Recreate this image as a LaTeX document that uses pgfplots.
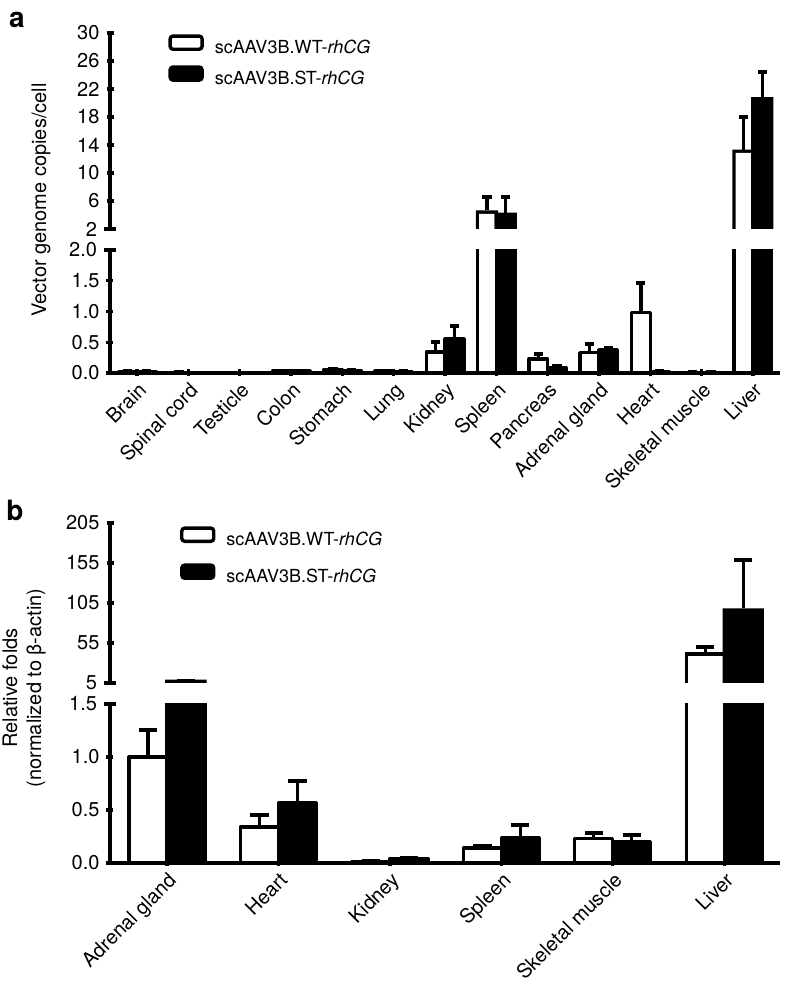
\documentclass[border=0pt]{standalone}
\usepackage{pgfplots}
\usepackage{pgfplotstable}
\pgfplotsset{compat=1.18}
\usepackage{fontspec}
\setmainfont{TeX Gyre Heros}

\pgfplotstableread{
x wt wterr st sterr
0 0.02 0.01 0.02 0.01
1 0.01 0.00 0.00 0.00
2 0.00 0.00 0.00 0.00
3 0.03 0.01 0.03 0.01
4 0.05 0.01 0.04 0.01
5 0.03 0.01 0.02 0.01
6 0.34 0.16 0.55 0.21
7 4.4 2.2 4.1 2.5
8 0.23 0.08 0.08 0.03
9 0.33 0.14 0.38 0.02
10 0.98 0.48 0.02 0.01
11 0.01 0.00 0.01 0.00
12 13.1 4.9 20.6 3.8
}\dataA

\pgfplotstableread{
x wt wterr st sterr
0 1.00 0.25 7.0 0.8
1 0.34 0.11 0.57 0.20
2 0.01 0.005 0.04 0.01
3 0.14 0.02 0.24 0.12
4 0.23 0.05 0.20 0.06
5 41 9 96 63
}\dataB

\pgfplotsset{
  lines/.style={
    axis line style={-, line width=1.7pt},
    every outer x axis line/.append style={-},
    every outer y axis line/.append style={-},
    every inner x axis line/.append style={-},
    every inner y axis line/.append style={-},
  },
  every axis/.append style={
    font=\fontsize{10}{12}\selectfont,
    scale only axis, enlargelimits=false, clip marker paths=true,
    anchor=south west,
    tick style={line width=1.7pt, black},
    tick align=outside, major tick length=3.5pt,
    extra y tick style={tick align=center, major tick length=6pt},
  },
  wtbar/.style={ybar, bar shift=0pt, fill=white, draw=black, line width=1.7pt, line join=round},
  stbar/.style={ybar, bar shift=0pt, fill=black, draw=black, line width=1.7pt, line join=round},
  fillbar/.style={ybar, bar shift=0pt, fill=#1, draw=none},
  errbar/.style={error bars/.cd, y dir=plus, y explicit,
     error bar style={line width=1.7pt, black, solid},
     error mark options={rotate=90, mark size=#1, line width=2pt, black}},
  legstyle/.style={legend style={draw=none, fill=none,
    inner sep=0pt, row sep=#1, nodes={inner sep=0.5pt}, font=\fontsize{9}{10}\selectfont,
    /tikz/every odd column/.append style={column sep=5pt}},
    legend cell align=left},
}

% lower sections: outlined bars, open at the top by clipping
\newcommand{\lowbars}[4]{% #1 table, #2 shift, #3 bar width, #4 cap size
  \addplot[wtbar, bar width=#3, forget plot, errbar=#4] table[x expr=\thisrow{x}-#2, y=wt, y error=wterr]{#1};
  \addplot[stbar, bar width=#3, forget plot, errbar=#4] table[x expr=\thisrow{x}+#2, y=st, y error=sterr]{#1};
}
% upper sections: bars open at the bottom (outline built from fills); only bars above the break
\newcommand{\upbars}[7]{% #1 table, #2 shift, #3 outer width, #4 inner width, #5 cap, #6 half line in data units, #7 lower limit
  \addplot[fillbar=black, bar width=#3, forget plot, restrict y to domain=#7:100000, errbar=#5] table[x expr=\thisrow{x}-#2, y expr=\thisrow{wt}+#6, y error expr=\thisrow{wterr}-#6]{#1};
  \addplot[fillbar=white, bar width=#4, forget plot, restrict y to domain=#7:100000] table[x expr=\thisrow{x}-#2, y expr=\thisrow{wt}-#6]{#1};
  \addplot[fillbar=black, bar width=#3, forget plot, restrict y to domain=#7:100000, errbar=#5] table[x expr=\thisrow{x}+#2, y expr=\thisrow{st}+#6, y error expr=\thisrow{sterr}-#6]{#1};
}
\newcommand{\legimgs}{%
  \addlegendimage{legend image code/.code={\draw[fill=white,draw=black,line width=1.7pt,rounded corners=1.5pt] (0pt,-0.6pt) rectangle (16pt,6pt);}}
  \addlegendentry{scAAV3B.WT-\textit{rhCG}}
  \addlegendimage{legend image code/.code={\draw[fill=black,draw=black,line width=1.7pt,rounded corners=1.5pt] (0pt,-0.6pt) rectangle (16pt,6pt);}}
  \addlegendentry{scAAV3B.ST-\textit{rhCG}}
}

\begin{document}
\begin{tikzpicture}
\path[use as bounding box] (0pt,0pt) rectangle (393pt,492pt);

% ---------- panel a ----------
\begin{axis}[at={(55pt,305.5pt)}, width=335pt, height=61.5pt,
  xmin=-0.53, xmax=12.53, ymin=0, ymax=2,
  axis x line=bottom, axis y line=left, lines,
  ytick={0,0.5,1,1.5}, yticklabels={0.0,0.5,1.0,1.5},
  extra y ticks={2}, extra y tick labels={2.0},
  xtick={0,...,12},
  xticklabels={Brain,Spinal cord,Testicle,Colon,Stomach,Lung,Kidney,Spleen,Pancreas,Adrenal gland,Heart,Skeletal muscle,Liver},
  xticklabel style={rotate=45, anchor=north east, inner sep=1.5pt}]
\lowbars{\dataA}{0.1832}{9.4pt}{2.3pt}
\end{axis}

\begin{axis}[at={(55pt,377.5pt)}, width=335pt, height=98pt,
  xmin=-0.53, xmax=12.53, ymin=2, ymax=30,
  axis x line=none, axis y line=left, lines,
  ytick={6,10,14,18,22,26,30}, yticklabels={6,10,14,18,22,26,30},
  extra y ticks={2}, extra y tick labels={2},
  legstyle=4pt,
  legend style={at={(axis description cs:0.0866,0.995)}, anchor=north west}]
\upbars{\dataA}{0.1832}{11.1pt}{7.7pt}{2.3pt}{0.243}{2.5}
\legimgs
\end{axis}

% ---------- panel b ----------
\begin{axis}[at={(55pt,60.5pt)}, width=335pt, height=79.5pt,
  xmin=-0.51, xmax=5.5, ymin=0, ymax=1.5,
  axis x line=bottom, axis y line=left, lines,
  ytick={0,0.5,1}, yticklabels={0.0,0.5,1.0},
  extra y ticks={1.5}, extra y tick labels={1.5},
  xtick={0,...,5},
  xticklabels={Adrenal gland,Heart,Kidney,Spleen,Skeletal muscle,Liver},
  xticklabel style={rotate=45, anchor=north east, inner sep=1.5pt}]
\lowbars{\dataB}{0.1704}{19pt}{4.6pt}
\end{axis}

\begin{axis}[at={(55pt,150.5pt)}, width=335pt, height=80pt,
  xmin=-0.51, xmax=5.5, ymin=5, ymax=205,
  axis x line=none, axis y line=left, lines,
  ytick={55,105,155,205}, yticklabels={55,105,155,205},
  extra y ticks={5}, extra y tick labels={5},
  legstyle=7pt,
  legend style={at={(axis description cs:0.104,0.981)}, anchor=north west}]
\upbars{\dataB}{0.1704}{20.7pt}{17.3pt}{4.6pt}{2.125}{5.5}
\legimgs
\end{axis}

\node[rotate=90, font=\fontsize{10}{12}\selectfont] at (20.5pt,392pt) {Vector genome copies/cell};
\node[rotate=90, align=center, font=\fontsize{10}{12}\selectfont] at (12pt,148pt) {Relative folds\\(normalized to β-actin)};
\node[font=\bfseries\fontsize{14}{14}\selectfont] at (8.5pt,482pt) {a};
\node[font=\bfseries\fontsize{14}{14}\selectfont] at (7.5pt,237pt) {b};
\end{tikzpicture}
\end{document}
